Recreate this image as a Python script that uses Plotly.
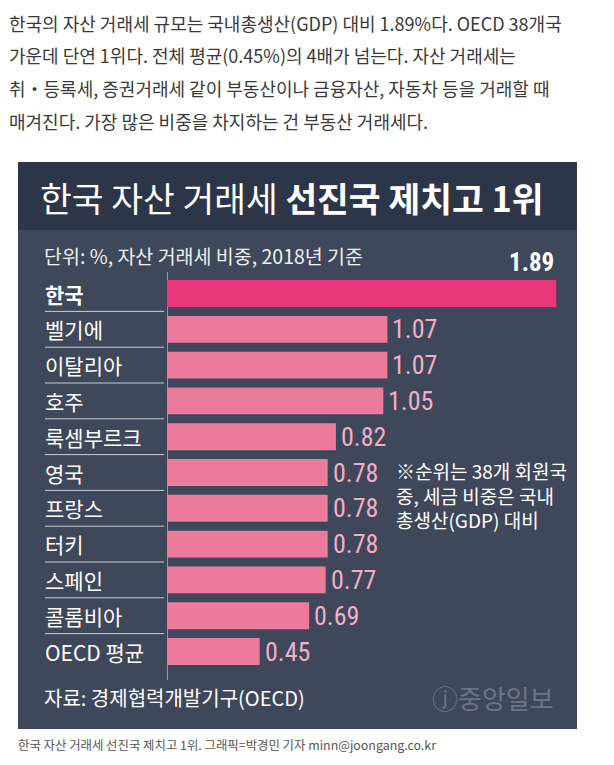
import plotly.graph_objects as go

W, H = 614, 765

categories = ["한국", "벨기에", "이탈리아", "호주", "룩셈부르크", "영국", "프랑스", "터키", "스페인", "콜롬비아", "OECD 평균"]
values = [1.89, 1.07, 1.07, 1.05, 0.82, 0.78, 0.78, 0.78, 0.77, 0.69, 0.45]

paragraph = [
    "한국의 자산 거래세 규모는 국내총생산(GDP) 대비 1.89%다. OECD 38개국",
    "가운데 단연 1위다. 전체 평균(0.45%)의 4배가 넘는다. 자산 거래세는",
    "취・등록세, 증권거래세 같이 부동산이나 금융자산, 자동차 등을 거래할 때",
    "매겨진다. 가장 많은 비중을 차지하는 건 부동산 거래세다.",
]
title_regular = "한국 자산 거래세 "
title_bold = "선진국 제치고 1위"
subtitle = "단위: %, 자산 거래세 비중, 2018년 기준"
note_lines = ["※순위는 38개 회원국", "중, 세금 비중은 국내", "총생산(GDP) 대비"]
source = "자료: 경제협력개발기구(OECD)"
watermark = "ⓙ중앙일보"
caption = "한국 자산 거래세 선진국 제치고 1위. 그래픽=박경민 기자 minn@joongang.co.kr"


def X(px):
    return px / W


def Y(py):
    return 1 - py / H


KFONT = "Noto Sans CJK KR, Noto Sans, sans-serif"
NUMFONT = "Liberation Sans Narrow, Roboto Condensed, Roboto, sans-serif"
BAND = "#2d3548"
BODY = "#3f485a"
HOT = "#e8387b"
PINK = "#eb7a9b"
LABEL_PINK = "#f3aec7"

bar_colors = [HOT] + [PINK] * (len(values) - 1)

fig = go.Figure()
fig.add_trace(go.Bar(
    x=values, y=categories, orientation="h",
    marker=dict(color=bar_colors, line=dict(width=0)),
    width=0.75, hoverinfo="skip",
))

row_top, row_bottom = 275.6, 669.4
x_left, x_right = 167, 577
xmax = (x_right - x_left) / 206.0

fig.update_layout(
    width=W, height=H,
    margin=dict(l=0, r=0, t=0, b=0),
    paper_bgcolor="white",
    plot_bgcolor="rgba(0,0,0,0)",
    showlegend=False,
    xaxis=dict(domain=[X(x_left), X(x_right)], range=[0, xmax], visible=False, fixedrange=True),
    yaxis=dict(domain=[Y(row_bottom), Y(row_top)], type="category", categoryarray=categories,
               categoryorder="array", range=[len(categories) - 0.5, -0.5], visible=False, fixedrange=True),
)

shapes = [
    dict(type="rect", xref="paper", yref="paper", x0=X(18), x1=X(577), y0=Y(729), y1=Y(162),
         fillcolor=BODY, line=dict(width=0), layer="below"),
    dict(type="rect", xref="paper", yref="paper", x0=X(18), x1=X(577), y0=Y(230), y1=Y(162),
         fillcolor=BAND, line=dict(width=0), layer="below"),
    dict(type="line", xref="x", yref="paper", x0=0, x1=0, y0=Y(680), y1=Y(272),
         line=dict(color="#aeb3bd", width=1.5), layer="below"),
]
for i in range(len(categories) - 1):
    shapes.append(dict(type="line", xref="paper", yref="y", x0=X(45), x1=X(164), y0=i + 0.5, y1=i + 0.5,
                       line=dict(color="#c9cdd4", width=1)))
fig.update_layout(shapes=shapes)

ann = []
# paragraph
for k, line in enumerate(paragraph):
    ann.append(dict(text=line, x=X(7), y=Y(23 + 32.5 * k), xref="paper", yref="paper",
                    xanchor="left", yanchor="middle", showarrow=False,
                    font=dict(family=KFONT, size=18, color="#3a3a3a")))
# title
ann.append(dict(text=title_regular + "<b>" + title_bold + "</b>", x=X(38), y=Y(197), xref="paper", yref="paper",
                xanchor="left", yanchor="middle", showarrow=False,
                font=dict(family=KFONT, size=34.5, color="white")))
# subtitle
ann.append(dict(text=subtitle, x=X(42), y=Y(256), xref="paper", yref="paper",
                xanchor="left", yanchor="middle", showarrow=False,
                font=dict(family=KFONT, size=19.5, color="#eef0f3")))
# category labels
for i, c in enumerate(categories):
    txt = "<b>" + c + "</b>" if i == 0 else c
    ann.append(dict(text=txt, x=X(43), y=c, xref="paper", yref="y",
                    xanchor="left", yanchor="middle", showarrow=False,
                    font=dict(family=KFONT, size=21, color="white")))
# value labels
for i, (c, v) in enumerate(zip(categories, values)):
    if i == 0:
        ann.append(dict(text="<b>%.2f</b>" % v, x=v, y=c, xref="x", yref="y",
                        xanchor="right", yanchor="middle", yshift=31, showarrow=False,
                        font=dict(family=NUMFONT, size=25, color="white")))
    else:
        ann.append(dict(text="%.2f" % v, x=v, y=c, xref="x", yref="y",
                        xanchor="left", yanchor="middle", xshift=3, showarrow=False,
                        font=dict(family=NUMFONT, size=26, color=LABEL_PINK)))
# note (single block, three lines)
ann.append(dict(text="<br>".join(note_lines), x=X(394), y=Y(495), xref="paper", yref="paper",
                xanchor="left", yanchor="middle", align="left", showarrow=False,
                font=dict(family=KFONT, size=19, color="white")))
# source and watermark
ann.append(dict(text=source, x=X(42), y=Y(697), xref="paper", yref="paper",
                xanchor="left", yanchor="middle", showarrow=False,
                font=dict(family=KFONT, size=20, color="white")))
ann.append(dict(text=watermark, x=X(556), y=Y(697), xref="paper", yref="paper",
                xanchor="right", yanchor="middle", showarrow=False,
                font=dict(family=KFONT, size=26, color="#6c7487")))
# caption
ann.append(dict(text=caption, x=X(16), y=Y(745), xref="paper", yref="paper",
                xanchor="left", yanchor="middle", showarrow=False,
                font=dict(family=KFONT, size=12.4, color="#555555")))

fig.update_layout(annotations=ann)
fig.write_html("out.html")
